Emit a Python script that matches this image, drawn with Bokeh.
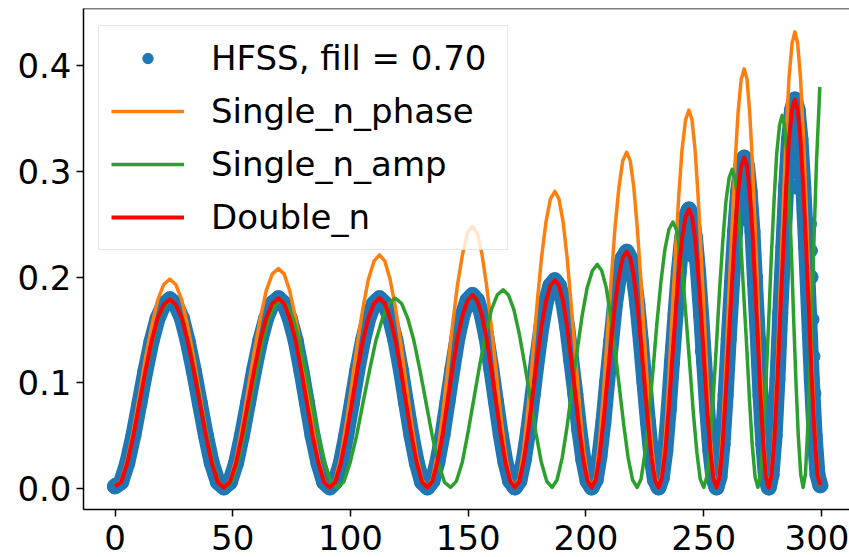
from bokeh.plotting import figure
from bokeh.models import Range1d, FixedTicker, PrintfTickFormatter, Legend, LegendItem, Span
from bokeh.embed import file_html
from bokeh.resources import INLINE

# ---- data ----
# x positions shared by HFSS, Single_n_phase and Double_n
x_fit = [0, 2.6, 5.2, 7.8, 10.4, 12.9, 15.5, 18.1, 20.7, 23.3, 25.8, 28.4, 30.9, 33.5, 36.0, 38.6, 41.1, 43.7,
         46.2, 48.8, 51.4, 53.9, 56.5, 59.1, 61.7, 64.2, 66.8, 69.4, 71.8, 74.2, 76.7, 79.1, 81.5, 83.9, 86.4, 88.8,
         91.2, 93.5, 95.9, 98.2, 100.6, 102.9, 105.3, 107.6, 110.0, 112.3, 114.6, 116.8, 119.1, 121.4, 123.6, 125.9, 128.2, 130.4,
         132.7, 134.8, 136.9, 139.1, 141.2, 143.3, 145.4, 147.6, 149.7, 151.8, 153.8, 155.8, 157.8, 159.8, 161.8, 163.8, 165.8, 167.8,
         169.8, 171.7, 173.6, 175.5, 177.4, 179.2, 181.1, 183.0, 184.9, 186.8, 188.5, 190.3, 192.0, 193.7, 195.5, 197.2, 198.9, 200.7,
         202.4, 204.1, 205.7, 207.4, 209.0, 210.7, 212.3, 214.0, 215.6, 217.3, 218.8, 220.3, 221.8, 223.3, 224.8, 226.3, 227.8, 229.3,
         230.8, 232.2, 233.7, 235.1, 236.5, 238.0, 239.4, 240.8, 242.3, 243.7, 245.0, 246.3, 247.6, 248.9, 250.2, 251.5, 252.8, 254.1,
         255.4, 256.7, 258.0, 259.3, 260.6, 262.0, 263.3, 264.6, 265.9, 267.2, 268.4, 269.5, 270.7, 271.8, 273.0, 274.1, 275.3, 276.4,
         277.6, 278.8, 280.1, 281.3, 282.5, 283.8, 285.0, 286.2, 287.5, 288.7, 289.9, 291.1, 292.3, 293.5, 294.7, 295.9, 297.1, 298.3,
         299.5]

hfss_y = [0.002, 0.006, 0.024, 0.050, 0.081, 0.111, 0.139, 0.161, 0.174, 0.179, 0.174, 0.161, 0.139, 0.111, 0.081, 0.050, 0.024, 0.006,
          0.001, 0.006, 0.024, 0.050, 0.081, 0.112, 0.140, 0.161, 0.175, 0.180, 0.175, 0.161, 0.140, 0.112, 0.081, 0.050, 0.024, 0.006,
          0.001, 0.006, 0.024, 0.050, 0.081, 0.112, 0.140, 0.161, 0.175, 0.180, 0.175, 0.161, 0.140, 0.112, 0.081, 0.050, 0.024, 0.006,
          0.001, 0.007, 0.025, 0.051, 0.082, 0.113, 0.142, 0.164, 0.178, 0.183, 0.178, 0.164, 0.142, 0.113, 0.082, 0.051, 0.025, 0.007,
          0.001, 0.007, 0.027, 0.055, 0.089, 0.122, 0.153, 0.177, 0.192, 0.197, 0.192, 0.177, 0.153, 0.122, 0.089, 0.055, 0.027, 0.007,
          0.001, 0.008, 0.030, 0.063, 0.101, 0.139, 0.174, 0.201, 0.218, 0.224, 0.218, 0.201, 0.174, 0.139, 0.101, 0.063, 0.030, 0.008,
          0.001, 0.010, 0.036, 0.074, 0.119, 0.164, 0.205, 0.237, 0.257, 0.264, 0.257, 0.237, 0.205, 0.164, 0.119, 0.074, 0.036, 0.010,
          0.001, 0.011, 0.042, 0.088, 0.141, 0.194, 0.243, 0.281, 0.305, 0.313, 0.305, 0.281, 0.243, 0.194, 0.141, 0.088, 0.042, 0.011,
          0.001, 0.013, 0.050, 0.103, 0.166, 0.228, 0.285, 0.330, 0.358, 0.368, 0.358, 0.330, 0.285, 0.228, 0.166, 0.103, 0.050, 0.013,
          0.003]

# scattered HFSS samples in the last periods
hfss_extra_x = [243.7, 243.9, 244.6, 245.4, 247.8, 249.4, 266.6, 267.2, 267.4, 267.9, 268.5,
                288.3, 288.7, 288.9, 289.2, 289.5, 289.9, 294.9, 295.3, 295.6, 296.0, 296.4, 296.8,
                272.0, 272.6, 273.4]
hfss_extra_y = [0.245, 0.228, 0.236, 0.220, 0.195, 0.130, 0.280, 0.290, 0.270, 0.255, 0.265,
                0.330, 0.345, 0.320, 0.300, 0.285, 0.310, 0.250, 0.225, 0.200, 0.160, 0.125, 0.090,
                0.200, 0.160, 0.120]

phase_y = [0.002, 0.007, 0.027, 0.055, 0.089, 0.123, 0.153, 0.178, 0.193, 0.198, 0.193, 0.178, 0.153, 0.123, 0.089, 0.055, 0.027, 0.007,
           0.001, 0.007, 0.028, 0.058, 0.094, 0.129, 0.161, 0.187, 0.203, 0.208, 0.203, 0.187, 0.161, 0.129, 0.094, 0.058, 0.028, 0.007,
           0.001, 0.008, 0.030, 0.062, 0.099, 0.137, 0.171, 0.198, 0.215, 0.221, 0.215, 0.198, 0.171, 0.137, 0.099, 0.062, 0.030, 0.008,
           0.001, 0.009, 0.033, 0.069, 0.112, 0.154, 0.192, 0.222, 0.242, 0.248, 0.242, 0.222, 0.192, 0.154, 0.112, 0.069, 0.033, 0.009,
           0.001, 0.010, 0.038, 0.079, 0.126, 0.174, 0.218, 0.252, 0.274, 0.281, 0.274, 0.252, 0.218, 0.174, 0.126, 0.079, 0.038, 0.010,
           0.001, 0.011, 0.043, 0.089, 0.143, 0.197, 0.246, 0.285, 0.310, 0.318, 0.310, 0.285, 0.246, 0.197, 0.143, 0.089, 0.043, 0.011,
           0.001, 0.013, 0.048, 0.100, 0.161, 0.222, 0.277, 0.321, 0.349, 0.358, 0.349, 0.321, 0.277, 0.222, 0.161, 0.100, 0.048, 0.013,
           0.001, 0.014, 0.054, 0.111, 0.179, 0.246, 0.308, 0.356, 0.387, 0.397, 0.387, 0.356, 0.308, 0.246, 0.179, 0.111, 0.054, 0.014,
           0.001, 0.016, 0.058, 0.121, 0.194, 0.268, 0.335, 0.388, 0.421, 0.432, 0.421, 0.388, 0.335, 0.268, 0.194, 0.121, 0.058, 0.016,
           0.003]

double_y = [0.002, 0.006, 0.024, 0.050, 0.081, 0.111, 0.139, 0.161, 0.174, 0.179, 0.174, 0.161, 0.139, 0.111, 0.081, 0.050, 0.024, 0.006,
            0.001, 0.006, 0.024, 0.050, 0.081, 0.112, 0.140, 0.161, 0.175, 0.180, 0.175, 0.161, 0.140, 0.112, 0.081, 0.050, 0.024, 0.006,
            0.001, 0.006, 0.024, 0.050, 0.081, 0.112, 0.140, 0.161, 0.175, 0.180, 0.175, 0.161, 0.140, 0.112, 0.081, 0.050, 0.024, 0.006,
            0.001, 0.007, 0.025, 0.051, 0.082, 0.113, 0.142, 0.164, 0.178, 0.183, 0.178, 0.164, 0.142, 0.113, 0.082, 0.051, 0.025, 0.007,
            0.001, 0.007, 0.027, 0.055, 0.089, 0.122, 0.153, 0.177, 0.192, 0.197, 0.192, 0.177, 0.153, 0.122, 0.089, 0.055, 0.027, 0.007,
            0.001, 0.008, 0.030, 0.063, 0.101, 0.139, 0.174, 0.201, 0.218, 0.224, 0.218, 0.201, 0.174, 0.139, 0.101, 0.063, 0.030, 0.008,
            0.001, 0.010, 0.036, 0.074, 0.119, 0.164, 0.205, 0.237, 0.257, 0.264, 0.257, 0.237, 0.205, 0.164, 0.119, 0.074, 0.036, 0.010,
            0.001, 0.011, 0.042, 0.088, 0.141, 0.194, 0.243, 0.281, 0.305, 0.313, 0.305, 0.281, 0.243, 0.194, 0.141, 0.088, 0.042, 0.011,
            0.001, 0.013, 0.050, 0.103, 0.166, 0.228, 0.285, 0.330, 0.358, 0.368, 0.358, 0.330, 0.285, 0.228, 0.166, 0.103, 0.050, 0.013,
            0.003]

amp_x = [0, 2.6, 5.2, 7.8, 10.4, 13.1, 15.7, 18.3, 20.9, 23.5, 26.1, 28.7, 31.3, 33.9, 36.4, 39.0, 41.6, 44.2,
         46.8, 49.4, 52.1, 54.7, 57.3, 60.0, 62.6, 65.2, 67.9, 70.5, 73.1, 75.8, 78.4, 81.1, 83.7, 86.4, 89.0, 91.7,
         94.3, 97.1, 99.8, 102.6, 105.3, 108.1, 110.8, 113.6, 116.3, 119.1, 121.7, 124.3, 126.9, 129.5, 132.1, 134.7, 137.3, 139.9,
         142.5, 145.0, 147.5, 149.9, 152.4, 154.9, 157.4, 159.8, 162.3, 164.8, 167.1, 169.4, 171.7, 174.0, 176.4, 178.7, 181.0, 183.3,
         185.6, 187.7, 189.9, 192.0, 194.1, 196.3, 198.4, 200.5, 202.7, 204.8, 206.7, 208.6, 210.4, 212.3, 214.2, 216.1, 217.9, 219.8,
         221.7, 223.4, 225.1, 226.8, 228.5, 230.1, 231.8, 233.5, 235.2, 236.9, 238.4, 239.8, 241.3, 242.7, 244.2, 245.6, 247.1, 248.5,
         250.0, 251.3, 252.7, 254.0, 255.4, 256.7, 258.1, 259.4, 260.8, 262.1, 263.3, 264.5, 265.7, 266.9, 268.2, 269.4, 270.6, 271.8,
         273.0, 274.1, 275.3, 276.4, 277.6, 278.7, 279.9, 281.0, 282.2, 283.3, 284.3, 285.3, 286.3, 287.3, 288.2, 289.2, 290.2, 291.2,
         292.2, 293.2, 294.1, 295.1, 296.0, 297.0, 297.9, 298.9, 299.3]
amp_y = [0.002, 0.006, 0.024, 0.050, 0.080, 0.110, 0.138, 0.160, 0.173, 0.178, 0.173, 0.160, 0.138, 0.110, 0.080, 0.050, 0.024, 0.006,
         0.001, 0.006, 0.024, 0.050, 0.080, 0.110, 0.138, 0.160, 0.173, 0.178, 0.173, 0.160, 0.138, 0.110, 0.080, 0.050, 0.024, 0.006,
         0.001, 0.006, 0.024, 0.050, 0.081, 0.112, 0.140, 0.161, 0.175, 0.180, 0.175, 0.161, 0.140, 0.112, 0.081, 0.050, 0.024, 0.006,
         0.001, 0.007, 0.025, 0.053, 0.085, 0.117, 0.146, 0.169, 0.183, 0.188, 0.183, 0.169, 0.146, 0.117, 0.085, 0.053, 0.025, 0.007,
         0.001, 0.008, 0.029, 0.059, 0.095, 0.131, 0.164, 0.190, 0.206, 0.212, 0.206, 0.190, 0.164, 0.131, 0.095, 0.059, 0.029, 0.008,
         0.001, 0.009, 0.034, 0.071, 0.113, 0.156, 0.195, 0.226, 0.245, 0.252, 0.245, 0.226, 0.195, 0.156, 0.113, 0.071, 0.034, 0.009,
         0.001, 0.011, 0.041, 0.085, 0.136, 0.187, 0.234, 0.271, 0.294, 0.302, 0.294, 0.271, 0.234, 0.187, 0.136, 0.085, 0.041, 0.011,
         0.001, 0.013, 0.048, 0.099, 0.159, 0.219, 0.274, 0.317, 0.344, 0.353, 0.344, 0.317, 0.274, 0.219, 0.159, 0.099, 0.048, 0.013,
         0.001, 0.014, 0.054, 0.112, 0.180, 0.248, 0.310, 0.359, 0.380]

x_ticks = [0, 50, 100, 150, 200, 250, 300]
y_ticks = [0.0, 0.1, 0.2, 0.3, 0.4]

labels = ["HFSS, fill = 0.70", "Single_n_phase", "Single_n_amp", "Double_n"]

# ---- figure ----
X0, X1 = -13.38, 311.9
Y0, Y1 = -0.0199, 0.4541

p = figure(width=849, height=557, output_backend="svg", toolbar_location=None,
           x_range=Range1d(X0, X1), y_range=Range1d(Y0, Y1),
           min_border_left=83, min_border_right=0, min_border_top=8, min_border_bottom=48)
p.background_fill_color = "white"
p.border_fill_color = "white"
p.outline_line_color = None
p.xgrid.visible = False
p.ygrid.visible = False

FONT = "DejaVu Sans"
for ax in (p.xaxis[0], p.yaxis[0]):
    ax.axis_line_color = "black"
    ax.axis_line_width = 1.5
    ax.major_tick_line_color = "black"
    ax.major_tick_line_width = 1.5
    ax.major_tick_out = 7
    ax.major_tick_in = 0
    ax.minor_tick_line_color = None
    ax.major_label_text_font = FONT
    ax.major_label_text_font_size = "34px"
    ax.major_label_text_color = "black"

p.xaxis[0].ticker = FixedTicker(ticks=x_ticks)
p.xaxis[0].formatter = PrintfTickFormatter(format="%d")
p.xaxis[0].major_label_standoff = 8
p.yaxis[0].ticker = FixedTicker(ticks=y_ticks)
p.yaxis[0].formatter = PrintfTickFormatter(format="%.1f")
p.yaxis[0].major_label_standoff = 5

# top spine
p.add_layout(Span(location=Y1, dimension="width", line_color="black", line_width=1.5))

BLUE = "#1f77b4"
p.line(x_fit, hfss_y, line_width=16, line_color=BLUE, line_join="round", line_cap="round")
r_hfss = p.scatter(x_fit, hfss_y, size=15, fill_color=BLUE, line_color=BLUE)
p.scatter(hfss_extra_x, hfss_extra_y, size=14, fill_color=BLUE, line_color=BLUE)

r_phase = p.line(x_fit, phase_y, line_width=3.5, line_color="#ff7f0e", line_join="round")
r_amp = p.line(amp_x, amp_y, line_width=3.5, line_color="#2ca02c", line_join="round")
r_double = p.line(x_fit, double_y, line_width=4, line_color="#ff0000", line_join="round")

legend = Legend(items=[
    LegendItem(label=labels[0], renderers=[r_hfss]),
    LegendItem(label=labels[1], renderers=[r_phase]),
    LegendItem(label=labels[2], renderers=[r_amp]),
    LegendItem(label=labels[3], renderers=[r_double]),
], location=(15, 259), margin=0, padding=12, spacing=13,
    glyph_width=73, glyph_height=26, label_height=40, label_width=284,
    label_standoff=27, label_text_font=FONT, label_text_font_size="34px",
    label_text_color="black", label_text_baseline="middle",
    border_line_color="#cccccc", border_line_width=1.5,
    background_fill_color="white", background_fill_alpha=0.8)
p.add_layout(legend, "center")

open("out.html", "w").write(file_html(p, INLINE))
